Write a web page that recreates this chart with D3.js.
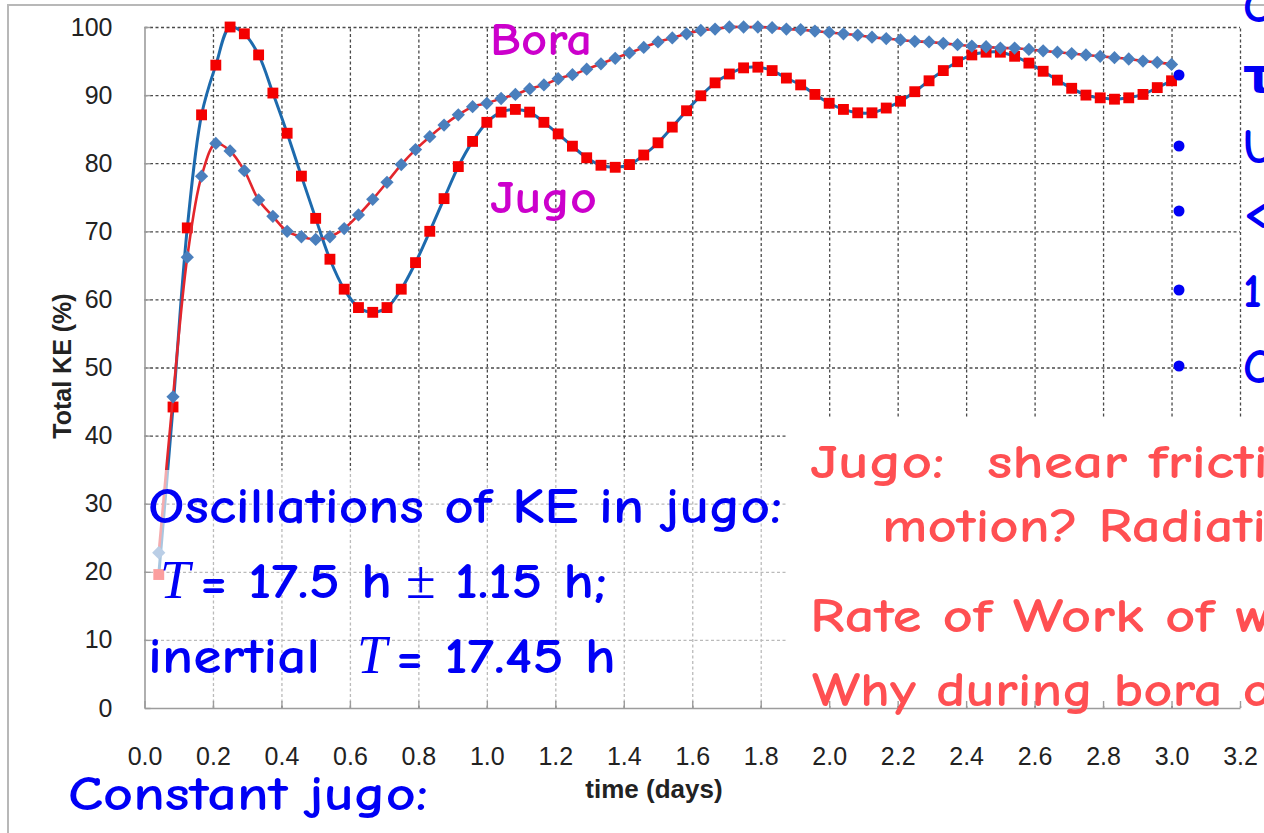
<!DOCTYPE html>
<html>
<head>
<meta charset="utf-8">
<script src="https://cdn.jsdelivr.net/npm/d3@7/dist/d3.min.js"></script>
<style>
  body { margin: 0; background: #fff; }
  svg { display: block; }
</style>
</head>
<body>
<script>
var width = 1264
var height = 833

// model output every hour, plotted as days (hour / 24)
var hours = d3.range(1, 73)

var jugoKE = [19.6, 44.2, 70.5, 87.1, 94.4, 100, 99, 95.9, 90.3, 84.4, 78.1, 71.9,
    65.9, 61.5, 58.8, 58.1, 58.8, 61.5, 65.4, 70, 74.8, 79.5, 83.2, 86,
    87.5, 87.9, 87.5, 86, 84.3, 82.5, 80.8, 79.7, 79.4, 79.8, 81.2, 83,
    85.3, 87.7, 89.9, 91.8, 93.1, 94, 94.1, 93.6, 92.5, 91.5, 90.1, 88.8,
    87.9, 87.4, 87.4, 88.1, 89.1, 90.5, 92.1, 93.6, 94.9, 95.9, 96.3, 96.3,
    95.7, 94.7, 93.5, 92.2, 91, 90, 89.6, 89.4, 89.6, 90.1, 91.1, 92.1]

var boraKE = [22.8, 45.7, 66.2, 78.1, 82.9, 81.8, 78.9, 74.6, 72.2, 70, 69.2, 68.8,
    69.2, 70.4, 72.4, 74.7, 77.2, 79.8, 82, 83.9, 85.6, 87.1, 88.3, 88.8,
    89.5, 90.1, 90.9, 91.5, 92.4, 93, 93.8, 94.6, 95.4, 96.2, 97, 97.8,
    98.4, 99, 99.5, 99.7, 100, 100, 100, 99.9, 99.7, 99.6, 99.4, 99.2,
    99, 98.8, 98.5, 98.3, 98.1, 97.9, 97.8, 97.6, 97.4, 97.2, 97.1, 96.9,
    96.9, 96.7, 96.5, 96.3, 96.1, 95.9, 95.7, 95.5, 95.3, 95, 94.8, 94.5]

var xTicks = [0, 0.2, 0.4, 0.6, 0.8, 1.0, 1.2, 1.4, 1.6, 1.8, 2.0, 2.2, 2.4, 2.6, 2.8, 3.0, 3.2]
var yTicks = [0, 10, 20, 30, 40, 50, 60, 70, 80, 90, 100]

var comic = "'Comic Sans MS', 'Comic Neue', 'DejaVu Sans', sans-serif"
var arial = "'Liberation Sans', Arial, sans-serif"
var serif = "'Liberation Serif', 'Times New Roman', serif"

var svg = d3.select("body").append("svg")
    .attr("width", width)
    .attr("height", height)

var x = d3.scaleLinear().domain([0, 3.2]).range([144.5, 1240])
var y = d3.scaleLinear().domain([0, 100]).range([708, 27])

// slide frame
svg.append("path")
    .attr("d", "M8,833 V5 H1264")
    .attr("fill", "none")
    .attr("stroke", "#b8b8b8")
    .attr("stroke-width", 2)

// dotted grid
var grid = svg.append("g")
grid.append("g")
    .attr("transform", "translate(0," + y(0) + ")")
    .call(d3.axisBottom(x).tickValues(xTicks.slice(1)).tickSize(-(y(0) - y(100))).tickFormat(""))
grid.append("g")
    .attr("transform", "translate(" + x(0) + ",0)")
    .call(d3.axisLeft(y).tickValues(yTicks.slice(1)).tickSize(-(x(3.2) - x(0))).tickFormat(""))
grid.selectAll(".domain").remove()
grid.selectAll("line")
    .attr("stroke", "#4a4a4a")
    .attr("stroke-width", 1.3)
    .attr("stroke-dasharray", "3,2.5")

function series(values, lineColor, lineWidth, markerColor, symbol, size, angle) {
    var pts = hours.map(function(h, i) { return [h / 24, values[i]] })
    var line = d3.line()
        .x(function(d) { return x(d[0]) })
        .y(function(d) { return y(d[1]) })
        .curve(d3.curveCatmullRom)

    svg.append("path")
        .datum(pts)
        .attr("d", line)
        .attr("fill", "none")
        .attr("stroke", lineColor)
        .attr("stroke-width", lineWidth)

    svg.append("g").selectAll("path")
        .data(pts)
        .enter()
        .append("path")
        .attr("d", d3.symbol().type(symbol).size(size))
        .attr("transform", function(d) {
            return "translate(" + x(d[0]) + "," + y(d[1]) + ") rotate(" + angle + ")"
        })
        .attr("fill", markerColor)
}

series(jugoKE, "#1d6aad", 3, "#f40000", d3.symbolSquare, 118, 0)
series(boraKE, "#e3262c", 2.6, "#4a7fbd", d3.symbolSquare, 88, 45)

// translucent box behind the blue notes, opaque one behind the red notes
svg.append("rect")
    .attr("x", 146).attr("y", 470)
    .attr("width", 642).attr("height", 236)
    .attr("fill", "#fff")
    .attr("opacity", 0.62)
svg.append("rect")
    .attr("x", 788).attr("y", 417)
    .attr("width", 476).attr("height", 289)
    .attr("fill", "#fff")

// axes
var axisColor = "#9c9c9c"
var yAxis = svg.append("g")
    .attr("transform", "translate(" + x(0) + ",0)")
    .call(d3.axisLeft(y).tickValues(yTicks).tickSizeInner(-6).tickSizeOuter(0).tickPadding(32))
var xAxis = svg.append("g")
    .attr("transform", "translate(0," + y(0) + ")")
    .call(d3.axisBottom(x).tickValues(xTicks).tickSizeInner(-7).tickSizeOuter(0).tickPadding(39)
        .tickFormat(d3.format(".1f")))

svg.selectAll(".domain").attr("stroke", axisColor).attr("stroke-width", 1.6)
yAxis.selectAll(".tick line").attr("stroke", axisColor).attr("stroke-width", 1.4)
xAxis.selectAll(".tick line").attr("stroke", axisColor).attr("stroke-width", 1.4)
svg.selectAll(".tick text")
    .style("font-family", arial)
    .style("font-size", "25px")
    .attr("fill", "#222")

svg.append("text")
    .attr("transform", "translate(71,366) rotate(-90)")
    .attr("text-anchor", "middle")
    .style("font-family", arial)
    .style("font-size", "25px")
    .style("font-weight", "bold")
    .attr("fill", "#222")
    .text("Total KE (%)")

svg.append("text")
    .attr("x", 654).attr("y", 798)
    .attr("text-anchor", "middle")
    .style("font-family", arial)
    .style("font-size", "26px")
    .style("font-weight", "bold")
    .attr("fill", "#222")
    .text("time (days)")

// slide annotations
function note(txt, px, py, size, color, len, family, italic) {
    var t = svg.append("text")
        .attr("x", px).attr("y", py)
        .style("font-family", family || comic)
        .style("font-size", size + "px")
        .style("font-weight", family ? "normal" : "bold")
        .style("white-space", "pre")
        .attr("fill", color)
        .text(txt)
    if (italic) t.style("font-style", "italic")
    if (len) t.attr("textLength", len).attr("lengthAdjust", "spacingAndGlyphs")
    return t
}

var blue = "#0000f5"
var red = "#ff4f52"
var magenta = "#cc00cc"

note("Bora", 490, 55, 46, magenta, 102)
note("Jugo", 490, 213, 46, magenta, 107)

note("Oscillations of KE in jugo:", 148, 523, 50, blue, 634)
note("T", 160, 598, 54, blue, 0, serif, true)
note("= 17.5 h", 200, 598, 50, blue, 192)
note("\u00b1", 406, 598, 54, blue, 0, serif)
note("1.15 h;", 455, 598, 50, blue, 152)
note("inertial", 148, 673, 50, blue, 172)
note("T", 357, 673, 54, blue, 0, serif, true)
note("= 17.45 h", 396, 673, 50, blue, 220)
note("Constant jugo:", 68, 810, 48, blue, 360)

note("Jugo:  shear fricti", 810, 478, 48, red, 458)
note("motion? Radiati", 882, 542, 48, red, 384)
note("Rate of Work of w", 810, 632, 48, red, 462)
note("Why during bora o", 812, 706, 48, red, 460)

// bullet list running off the right edge
var bullets = [
    { txt: "\u03c4", base: 92 },
    { txt: "U", base: 163 },
    { txt: "<", base: 228 },
    { txt: "1", base: 307 },
    { txt: "C", base: 383 }
]
note("C", 1243, 22, 48, blue)
bullets.forEach(function(b) {
    svg.append("circle")
        .attr("cx", 1179).attr("cy", b.base - 17)
        .attr("r", 5.5)
        .attr("fill", blue)
    note(b.txt, 1243, b.base, 48, blue)
})
</script>
</body>
</html>
